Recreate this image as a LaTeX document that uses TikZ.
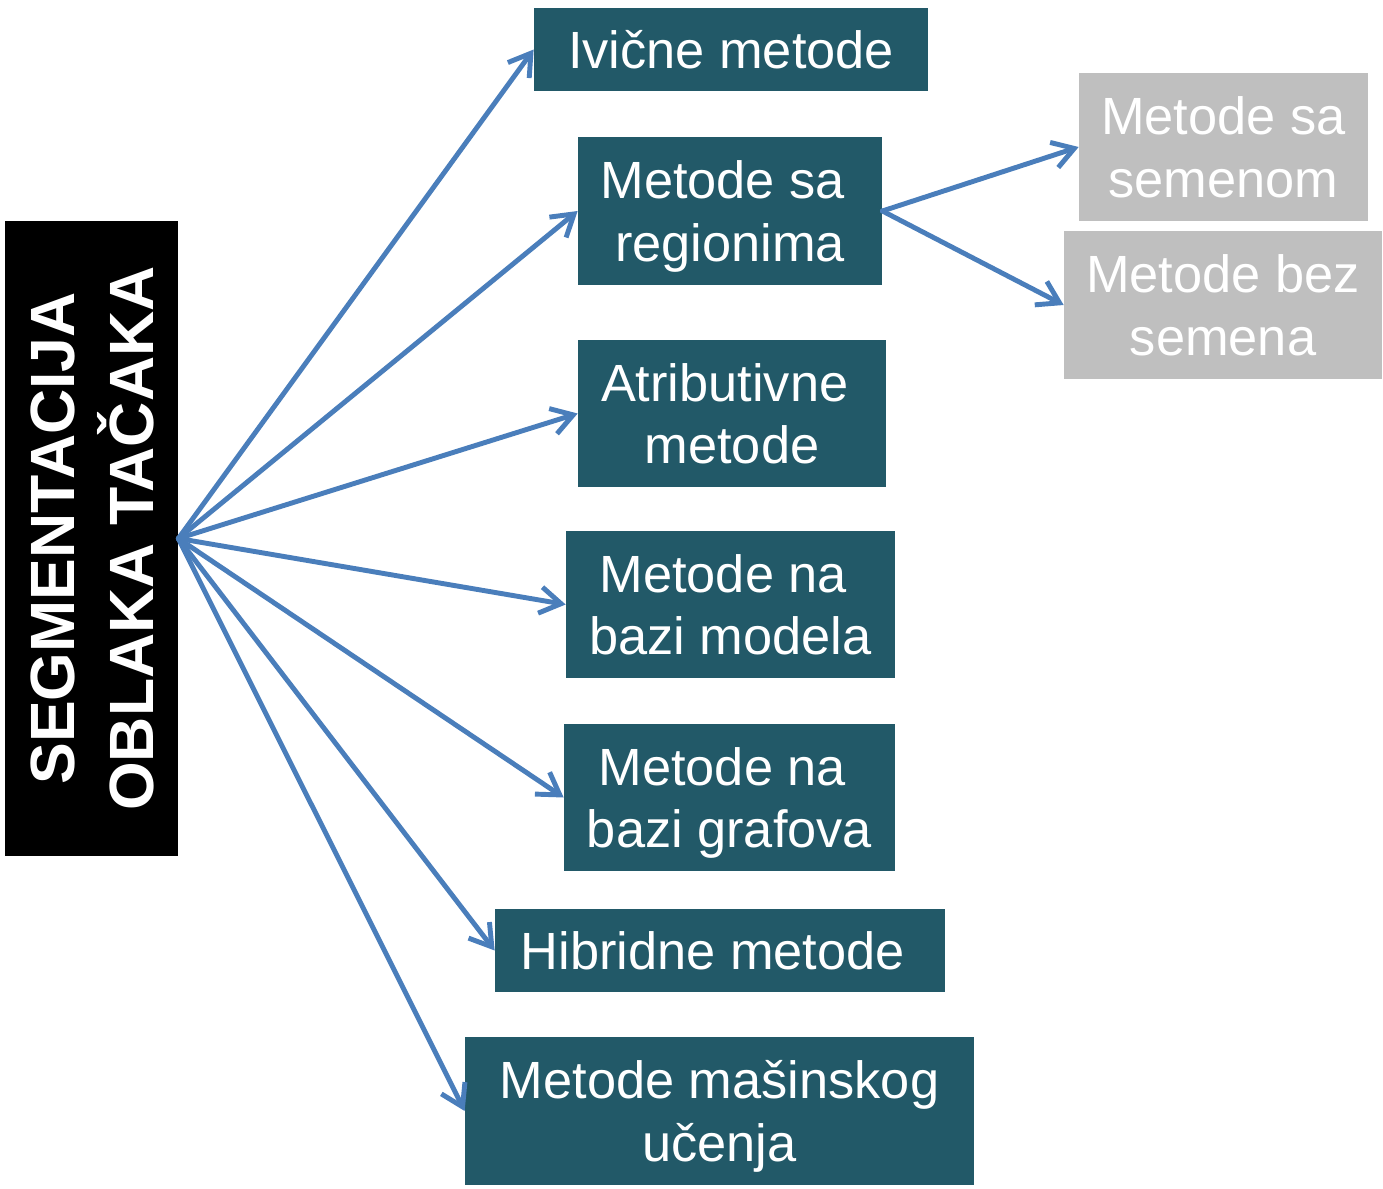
\documentclass[tikz,border=0pt]{standalone}
\usepackage{fontspec}
\setmainfont{Liberation Sans}
\usepackage{graphicx}
\usetikzlibrary{arrows.meta}
\definecolor{boxteal}{HTML}{225968}
\definecolor{boxgray}{HTML}{BFBFBF}
\definecolor{arrowblue}{HTML}{4A7EBB}

\begin{document}
\begin{tikzpicture}[x=0.02cm,y=-0.02cm,
box/.style n args={3}{fill=#1,text=white,rectangle,inner sep=0pt,align=center,text depth=0pt,minimum width=#2*0.02cm,minimum height=#3*0.02cm,font=\fontsize{29.8}{35.7}\selectfont},
rootbox/.style={fill=black,text=white,rectangle,inner sep=0pt,minimum width=173*0.02cm,minimum height=635*0.02cm,font=\fontsize{35.6}{44}\selectfont\bfseries},
conn/.style={arrowblue,line width=2.8pt,line cap=round,line join=round,-{Straight Barb[length=12pt,width=15pt]}}]
\useasboundingbox (0,0) rectangle (1383,1189);
\node[rootbox] (root) at (91.5,538.5) {\hspace*{8pt}\rotatebox{90}{\begin{tabular}{@{}c@{}}SEGMENTACIJA\\OBLAKA TAČAKA\end{tabular}}};
\node[box={boxteal}{394}{83}] (ivicne) at (731,49.5) {Ivične metode};
\node[box={boxteal}{304}{148}] (regioni) at (730,211) {\mbox{Metode sa }\\regionima};
\node[box={boxteal}{308}{147}] (atrib) at (732,413.5) {\mbox{Atributivne }\\metode};
\node[box={boxteal}{329}{147}] (modela) at (730.5,604.5) {\mbox{Metode na }\\bazi modela};
\node[box={boxteal}{331}{147}] (grafova) at (729.5,797.5) {\mbox{Metode na }\\bazi grafova};
\node[box={boxteal}{450}{83}] (hibrid) at (720,950.5) {\mbox{Hibridne metode }};
\node[box={boxteal}{509}{148}] (masin) at (719.5,1111) {Metode mašinskog\\učenja};
\node[box={boxgray}{289}{148}] (seme) at (1223.5,147) {Metode sa\\semenom};
\node[box={boxgray}{318}{148}] (bezseme) at (1223,305) {Metode bez\\semena};
\foreach \n in {ivicne,regioni,atrib,modela,grafova,hibrid,masin}
   \draw[conn] (root.east) -- (\n.west);
\foreach \n in {seme,bezseme}
   \draw[conn] (regioni.east) -- (\n.west);
\end{tikzpicture}
\end{document}
